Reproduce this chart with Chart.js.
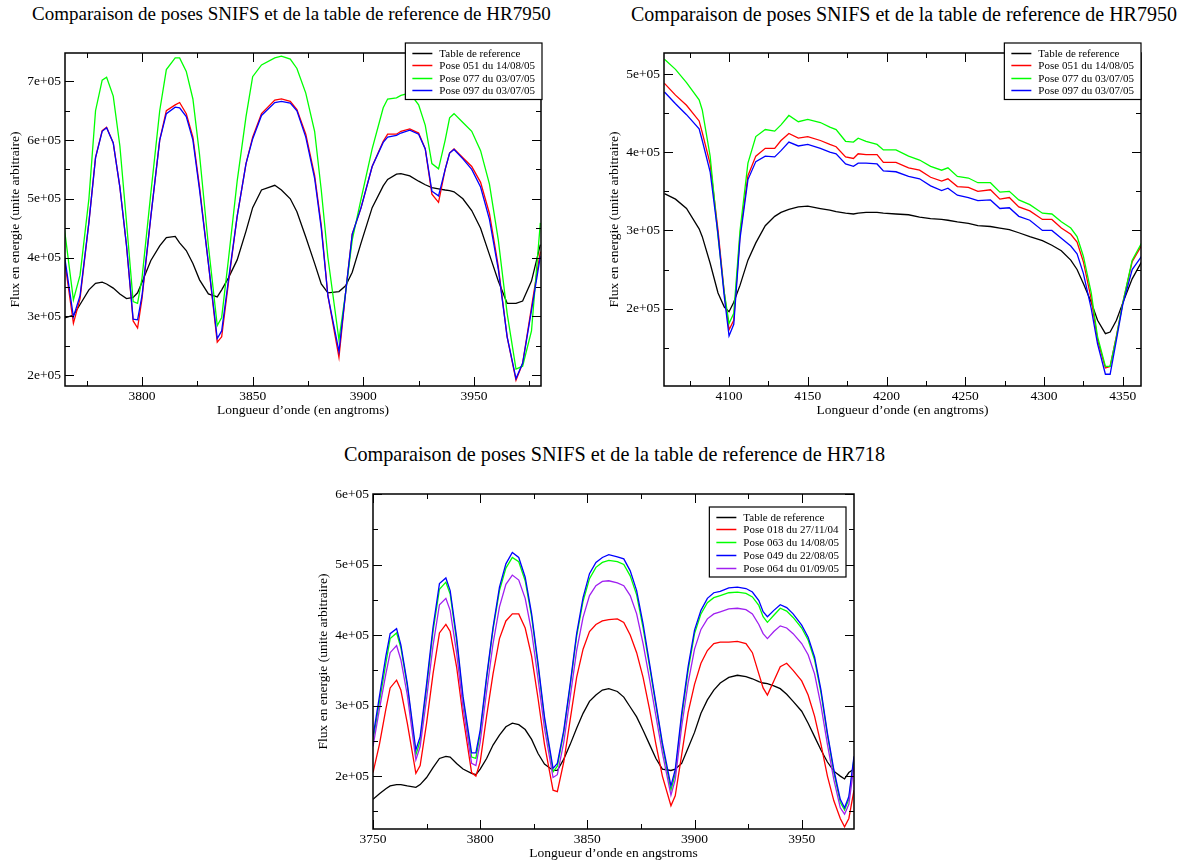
<!DOCTYPE html>
<html>
<head>
<meta charset="utf-8">
<script src="https://cdn.jsdelivr.net/npm/chart.js@4.4.1/dist/chart.umd.min.js"></script>
<style>
  body { margin: 0; background: #fff; width: 1184px; height: 863px; position: relative; overflow: hidden;
         font-family: 'Liberation Serif', 'Times New Roman', serif; color: #000; }
  .titre { position: absolute; font-size: 19px; line-height: 22px; white-space: nowrap; }
  canvas { position: absolute; }
</style>
</head>
<body>
<div class="titre" style="left:32px;top:3px">Comparaison de poses SNIFS et de la table de reference de HR7950</div>
<div class="titre" style="left:631px;top:3px;font-size:20px">Comparaison de poses SNIFS et de la table de reference de HR7950</div>
<div class="titre" style="left:344px;top:443px;font-size:20.2px">Comparaison de poses SNIFS et de la table de reference de HR718</div>

<canvas id="graphe1" width="580" height="400" style="left:0;top:30px"></canvas>
<canvas id="graphe2" width="594" height="400" style="left:590px;top:30px"></canvas>
<canvas id="graphe3" width="580" height="393" style="left:300px;top:470px"></canvas>

<script>
// flux en unites de 1e+05, longueurs d'onde en angstroms

// --- HR7950, premiere fenetre ---
const wl1 = [3765, 3769, 3772, 3776, 3779, 3782, 3784, 3787, 3790, 3793, 3796, 3798, 3800, 3804, 3808, 3811,
  3815, 3817, 3820, 3823, 3826, 3830, 3834, 3836, 3839, 3843, 3847, 3850, 3854, 3860, 3863, 3867, 3870, 3874,
  3878, 3881, 3884, 3889, 3892, 3895, 3899, 3904, 3909, 3911, 3915, 3917, 3921, 3925, 3928, 3931, 3934, 3937,
  3939, 3941, 3945, 3949, 3953, 3957, 3961, 3965, 3969, 3972, 3976, 3980];
const ref1 = [2.97, 3.02, 3.20, 3.45, 3.56, 3.58, 3.55, 3.48, 3.38, 3.30, 3.32, 3.40, 3.58, 3.95, 4.20, 4.34,
  4.36, 4.25, 4.12, 3.90, 3.62, 3.38, 3.33, 3.45, 3.65, 3.96, 4.45, 4.85, 5.15, 5.23, 5.15, 5.00, 4.78, 4.35,
  3.90, 3.55, 3.40, 3.42, 3.52, 3.75, 4.25, 4.85, 5.22, 5.33, 5.42, 5.43, 5.39, 5.30, 5.24, 5.19, 5.17, 5.15,
  5.14, 5.12, 5.00, 4.80, 4.50, 4.05, 3.60, 3.22, 3.22, 3.26, 3.60, 4.22];
const pose051_1 = [3.96, 2.88, 3.30, 4.60, 5.70, 6.16, 6.22, 5.95, 5.20, 4.20, 2.92, 2.80, 3.30, 4.70, 6.00, 6.50,
  6.60, 6.64, 6.45, 6.05, 5.20, 3.90, 2.56, 2.65, 3.55, 4.70, 5.60, 6.05, 6.45, 6.68, 6.70, 6.66, 6.52, 6.10,
  5.40, 4.55, 3.35, 2.30, 3.40, 4.40, 4.85, 5.55, 5.98, 6.10, 6.10, 6.15, 6.19, 6.12, 5.85, 5.08, 4.94, 5.50,
  5.78, 5.85, 5.70, 5.55, 5.28, 4.75, 3.85, 2.65, 1.91, 2.20, 3.15, 4.10];
const pose077_1 = [4.47, 3.28, 3.70, 5.00, 6.50, 7.02, 7.07, 6.75, 5.90, 4.60, 3.25, 3.22, 3.65, 5.10, 6.50, 7.20,
  7.40, 7.40, 7.17, 6.70, 5.75, 4.20, 2.84, 2.98, 3.95, 5.30, 6.40, 7.08, 7.28, 7.40, 7.43, 7.38, 7.22, 6.80,
  6.15, 5.15, 4.00, 2.60, 3.40, 4.30, 5.00, 5.85, 6.55, 6.70, 6.72, 6.76, 6.80, 6.60, 6.25, 5.60, 5.51, 6.00,
  6.38, 6.45, 6.30, 6.15, 5.82, 5.25, 4.30, 3.05, 2.10, 2.15, 2.75, 4.59];
const pose097_1 = [4.02, 2.99, 3.35, 4.60, 5.70, 6.15, 6.21, 5.95, 5.20, 4.20, 2.95, 2.94, 3.35, 4.70, 6.00, 6.45,
  6.56, 6.55, 6.40, 6.00, 5.15, 3.90, 2.62, 2.75, 3.60, 4.70, 5.60, 6.02, 6.42, 6.64, 6.66, 6.63, 6.50, 6.05,
  5.35, 4.50, 3.35, 2.40, 3.40, 4.40, 4.85, 5.55, 5.96, 6.05, 6.08, 6.12, 6.17, 6.10, 5.85, 5.13, 5.05, 5.50,
  5.78, 5.84, 5.68, 5.50, 5.20, 4.65, 3.80, 2.65, 1.94, 2.20, 3.10, 4.02];
const xTicks1 = [3800, 3850, 3900, 3950];
const yTicks1 = [2, 3, 4, 5, 6, 7];

// --- HR7950, seconde fenetre ---
const wl2 = [4059, 4066, 4073, 4081, 4083, 4088, 4093, 4097, 4100, 4103, 4107, 4112, 4117, 4123, 4129, 4133,
  4138, 4144, 4150, 4158, 4164, 4168, 4174, 4179, 4182, 4187, 4194, 4198, 4206, 4214, 4221, 4228, 4235, 4239,
  4245, 4252, 4258, 4266, 4272, 4278, 4284, 4291, 4299, 4305, 4311, 4317, 4321, 4325, 4330, 4334, 4339, 4342,
  4346, 4350, 4356, 4362];
const ref2 = [3.47, 3.40, 3.28, 3.02, 2.92, 2.58, 2.20, 2.02, 1.96, 2.08, 2.30, 2.62, 2.84, 3.06, 3.18, 3.23,
  3.27, 3.30, 3.31, 3.28, 3.26, 3.24, 3.22, 3.21, 3.22, 3.23, 3.23, 3.22, 3.21, 3.20, 3.17, 3.15, 3.14, 3.13,
  3.11, 3.09, 3.06, 3.05, 3.03, 3.01, 2.97, 2.92, 2.87, 2.81, 2.74, 2.62, 2.50, 2.32, 2.08, 1.85, 1.68, 1.70,
  1.85, 2.07, 2.38, 2.60];
const pose051_2 = [4.88, 4.73, 4.60, 4.40, 4.25, 3.85, 3.00, 2.20, 1.73, 1.85, 2.95, 3.70, 3.95, 4.05, 4.05, 4.15,
  4.24, 4.18, 4.20, 4.15, 4.10, 4.07, 3.94, 3.92, 3.98, 3.97, 3.97, 3.87, 3.87, 3.80, 3.77, 3.68, 3.63, 3.66,
  3.56, 3.55, 3.50, 3.52, 3.40, 3.42, 3.30, 3.25, 3.14, 3.14, 3.03, 2.95, 2.85, 2.60, 2.12, 1.60, 1.24, 1.26,
  1.65, 2.07, 2.60, 2.81];
const pose077_2 = [5.19, 5.06, 4.89, 4.67, 4.54, 3.95, 2.92, 2.20, 1.81, 1.94, 3.00, 3.86, 4.20, 4.29, 4.27, 4.35,
  4.47, 4.39, 4.42, 4.38, 4.32, 4.29, 4.14, 4.13, 4.18, 4.14, 4.10, 4.03, 4.03, 3.95, 3.90, 3.82, 3.77, 3.80,
  3.69, 3.67, 3.61, 3.61, 3.49, 3.50, 3.39, 3.33, 3.22, 3.21, 3.11, 3.03, 2.92, 2.67, 2.20, 1.64, 1.26, 1.26,
  1.64, 2.07, 2.62, 2.84];
const pose097_2 = [4.77, 4.62, 4.48, 4.30, 4.15, 3.75, 2.95, 2.15, 1.65, 1.80, 2.90, 3.65, 3.88, 3.95, 3.94, 4.02,
  4.13, 4.08, 4.10, 4.05, 4.00, 3.98, 3.85, 3.82, 3.86, 3.86, 3.85, 3.76, 3.75, 3.69, 3.66, 3.57, 3.51, 3.54,
  3.45, 3.42, 3.38, 3.39, 3.28, 3.29, 3.18, 3.13, 3.00, 3.00, 2.90, 2.80, 2.70, 2.45, 2.00, 1.55, 1.16, 1.16,
  1.60, 2.05, 2.50, 2.67];
const xTicks2 = [4100, 4150, 4200, 4250, 4300, 4350];
const yTicks2 = [2, 3, 4, 5];

// --- HR718 ---
const wl3 = [3750, 3753, 3756, 3758, 3761, 3763, 3766, 3770, 3772, 3775, 3778, 3781, 3784, 3786, 3789, 3792,
  3796, 3798, 3800, 3803, 3806, 3809, 3812, 3815, 3818, 3821, 3824, 3827, 3830, 3834, 3836, 3839, 3842, 3845,
  3848, 3851, 3854, 3857, 3860, 3864, 3867, 3870, 3873, 3876, 3879, 3882, 3885, 3889, 3891, 3894, 3897, 3900,
  3903, 3906, 3909, 3912, 3916, 3920, 3924, 3927, 3930, 3932, 3934, 3937, 3940, 3943, 3946, 3950, 3953, 3956,
  3959, 3962, 3965, 3968, 3970, 3972, 3974.4];
const ref3 = [1.67, 1.75, 1.82, 1.86, 1.88, 1.88, 1.86, 1.84, 1.88, 1.98, 2.12, 2.25, 2.28, 2.27, 2.18, 2.10,
  2.04, 2.02, 2.10, 2.25, 2.44, 2.58, 2.70, 2.75, 2.73, 2.66, 2.52, 2.32, 2.17, 2.08, 2.08, 2.24, 2.45, 2.68,
  2.89, 3.06, 3.15, 3.22, 3.24, 3.20, 3.12, 2.98, 2.84, 2.65, 2.45, 2.25, 2.10, 2.08, 2.10, 2.18, 2.40, 2.62,
  2.89, 3.08, 3.22, 3.32, 3.40, 3.43, 3.41, 3.38, 3.34, 3.32, 3.31, 3.28, 3.24, 3.16, 3.06, 2.92, 2.75, 2.56,
  2.37, 2.20, 2.07, 2.00, 1.96, 2.05, 2.10];
const pose018_3 = [2.05, 2.45, 2.95, 3.25, 3.36, 3.22, 2.75, 2.04, 2.15, 2.75, 3.45, 4.03, 4.15, 4.05, 3.55, 2.85,
  2.05, 2.00, 2.20, 2.85, 3.45, 3.95, 4.20, 4.30, 4.30, 4.10, 3.70, 3.10, 2.45, 1.80, 1.78, 2.20, 2.80, 3.40,
  3.80, 4.05, 4.15, 4.20, 4.22, 4.23, 4.18, 4.00, 3.75, 3.40, 2.95, 2.45, 2.00, 1.58, 1.72, 2.30, 2.90, 3.30,
  3.60, 3.78, 3.88, 3.90, 3.90, 3.91, 3.88, 3.75, 3.45, 3.25, 3.15, 3.35, 3.55, 3.60, 3.50, 3.35, 3.15, 2.85,
  2.45, 2.00, 1.65, 1.40, 1.28, 1.40, 1.80];
const pose063_3 = [2.50, 3.05, 3.60, 3.95, 4.03, 3.82, 3.28, 2.30, 2.50, 3.25, 4.05, 4.65, 4.75, 4.58, 3.92, 3.08,
  2.27, 2.25, 2.60, 3.38, 4.08, 4.63, 4.95, 5.10, 5.04, 4.77, 4.26, 3.56, 2.80, 2.06, 2.14, 2.62, 3.28, 3.98,
  4.48, 4.80, 4.96, 5.03, 5.06, 5.04, 5.00, 4.84, 4.57, 4.10, 3.56, 3.00, 2.43, 1.80, 2.03, 2.83, 3.50, 4.02,
  4.30, 4.46, 4.53, 4.56, 4.60, 4.61, 4.59, 4.54, 4.42, 4.26, 4.18, 4.28, 4.38, 4.34, 4.25, 4.10, 3.93, 3.65,
  3.18, 2.58, 2.05, 1.63, 1.52, 1.67, 2.25];
const pose049_3 = [2.56, 3.13, 3.70, 4.02, 4.09, 3.86, 3.31, 2.37, 2.56, 3.31, 4.11, 4.73, 4.81, 4.63, 3.97, 3.13,
  2.33, 2.33, 2.65, 3.41, 4.11, 4.68, 5.01, 5.17, 5.10, 4.82, 4.30, 3.60, 2.84, 2.11, 2.18, 2.65, 3.31, 4.02,
  4.53, 4.87, 5.03, 5.10, 5.14, 5.11, 5.08, 4.91, 4.63, 4.16, 3.60, 3.03, 2.47, 1.86, 2.09, 2.89, 3.55, 4.07,
  4.35, 4.52, 4.60, 4.62, 4.67, 4.68, 4.66, 4.61, 4.49, 4.33, 4.26, 4.35, 4.43, 4.39, 4.30, 4.14, 3.97, 3.69,
  3.22, 2.61, 2.09, 1.67, 1.55, 1.71, 2.28];
const pose064_3 = [2.42, 2.95, 3.45, 3.75, 3.85, 3.65, 3.15, 2.23, 2.42, 3.10, 3.85, 4.43, 4.52, 4.35, 3.75, 2.97,
  2.18, 2.15, 2.48, 3.20, 3.88, 4.40, 4.72, 4.85, 4.78, 4.52, 4.05, 3.38, 2.68, 1.98, 2.02, 2.48, 3.12, 3.78,
  4.25, 4.56, 4.70, 4.76, 4.77, 4.74, 4.70, 4.56, 4.30, 3.88, 3.38, 2.85, 2.33, 1.73, 1.95, 2.70, 3.32, 3.80,
  4.08, 4.23, 4.30, 4.33, 4.37, 4.38, 4.36, 4.30, 4.15, 4.02, 3.95, 4.05, 4.13, 4.10, 4.02, 3.88, 3.72, 3.45,
  3.00, 2.45, 1.95, 1.55, 1.46, 1.60, 2.15];
const xTicks3 = [3750, 3800, 3850, 3900, 3950];
const yTicks3 = [2, 3, 4, 5, 6];

const noms1 = ['Table de reference', 'Pose 051 du 14/08/05', 'Pose 077 du 03/07/05', 'Pose 097 du 03/07/05'];
const noms3 = ['Table de reference', 'Pose 018 du 27/11/04', 'Pose 063 du 14/08/05', 'Pose 049 du 22/08/05', 'Pose 064 du 01/09/05'];
const couleurs = ['#000000', '#ff0000', '#00ff00', '#0000ff', '#a020f0'];

Chart.defaults.font.family = "'Liberation Serif', 'Times New Roman', serif";
Chart.defaults.font.size = 13.5;
Chart.defaults.color = '#000';

// cadre a la xmgrace : bordure, graduations vers l'interieur, legende dans le trace
const cadre = {
  id: 'cadre',
  afterDraw(chart, args, opts) {
    const ctx = chart.ctx;
    const a = chart.chartArea;
    ctx.save();
    ctx.strokeStyle = '#000';
    ctx.lineWidth = 1.5;
    ctx.strokeRect(a.left, a.top, a.right - a.left, a.bottom - a.top);

    ctx.lineWidth = 1;
    const graduer = (scale, horiz) => {
      const vals = scale.ticks.map(t => t.value);
      const pas = vals[1] - vals[0];
      for (let k = -2; k <= (vals.length + 1) * 2; k++) {
        const v = vals[0] + k * pas / 2;
        if (v < scale.min - 1e-9 || v > scale.max + 1e-9) continue;
        const l = k % 2 === 0 ? 9 : 5;
        const p = Math.round(scale.getPixelForValue(v)) + 0.5;
        ctx.beginPath();
        if (horiz) {
          ctx.moveTo(p, a.bottom); ctx.lineTo(p, a.bottom - l);
          ctx.moveTo(p, a.top); ctx.lineTo(p, a.top + l);
        } else {
          ctx.moveTo(a.left, p); ctx.lineTo(a.left + l, p);
          ctx.moveTo(a.right, p); ctx.lineTo(a.right - l, p);
        }
        ctx.stroke();
      }
    };
    graduer(chart.scales.x, true);
    graduer(chart.scales.y, false);

    // legende
    const ds = chart.data.datasets;
    ctx.font = "11px 'Liberation Serif', serif";
    const largeur = 34 + Math.max(...ds.map(d => ctx.measureText(d.label).width)) + 7;
    const interligne = opts.interligne;
    const hauteur = 19 + (ds.length - 1) * interligne;
    const x0 = a.right + opts.dx - largeur;
    const y0 = a.top + opts.dy;
    ctx.fillStyle = '#fff';
    ctx.fillRect(x0, y0, largeur, hauteur);
    ctx.strokeStyle = '#000';
    ctx.lineWidth = 1.2;
    ctx.strokeRect(x0, y0, largeur, hauteur);
    ctx.textBaseline = 'middle';
    ds.forEach((d, i) => {
      const y = Math.round(y0 + 9.5 + i * interligne) + 0.5;
      ctx.strokeStyle = d.borderColor;
      ctx.lineWidth = 1.5;
      ctx.beginPath();
      ctx.moveTo(x0 + 7, y);
      ctx.lineTo(x0 + 27, y);
      ctx.stroke();
      ctx.fillStyle = '#000';
      ctx.fillText(d.label, x0 + 34, y + 0.5);
    });
    ctx.restore();
  }
};

function creerGraphe(id, wl, series, noms, xTicks, yTicks, r) {
  const datasets = series.map((s, i) => ({
    label: noms[i],
    data: wl.map((x, j) => ({ x: x, y: s[j] })),
    borderColor: couleurs[i],
    borderWidth: 1.3,
    pointRadius: 0,
    tension: 0,
    order: -i
  }));
  return new Chart(document.getElementById(id), {
    type: 'line',
    data: { datasets },
    plugins: [cadre],
    options: {
      responsive: false,
      animation: false,
      events: [],
      layout: { padding: r.padding },
      plugins: {
        legend: { display: false },
        tooltip: { enabled: false },
        cadre: r.legende
      },
      scales: {
        x: {
          type: 'linear',
          min: r.xmin, max: r.xmax,
          afterBuildTicks: s => { s.ticks = xTicks.map(v => ({ value: v })); },
          afterFit: s => { s.height = r.hx; },
          grid: { display: false, drawTicks: false },
          border: { display: false },
          ticks: { padding: r.padX, maxRotation: 0, callback: v => String(v) },
          title: { display: true, text: r.titreX, padding: { top: 0, bottom: r.titreXBas } }
        },
        y: {
          type: 'linear',
          min: r.ymin, max: r.ymax,
          afterBuildTicks: s => { s.ticks = yTicks.map(v => ({ value: v })); },
          afterFit: s => { s.width = r.ly; },
          grid: { display: false, drawTicks: false },
          border: { display: false },
          ticks: { padding: 4, callback: v => v + 'e+05' },
          title: { display: true, text: 'Flux en energie (unite arbitraire)', padding: { top: r.titreYGauche, bottom: 0 } }
        }
      }
    }
  });
}

creerGraphe('graphe1', wl1, [ref1, pose051_1, pose077_1, pose097_1], noms1, xTicks1, yTicks1, {
  padding: { left: 0, right: 39, top: 23, bottom: 0 },
  xmin: 3765.2, xmax: 3980.3, ymin: 1.8125, ymax: 7.483,
  hx: 44, ly: 65, padX: 2, titreXBas: 11, titreYGauche: 7,
  titreX: 'Longueur d\u2019onde (en angtroms)',
  legende: { dx: 1, dy: -10, interligne: 12.5 }
});

creerGraphe('graphe2', wl2, [ref2, pose051_2, pose077_2, pose097_2], noms1, xTicks2, yTicks2, {
  padding: { left: 0, right: 43, top: 23, bottom: 0 },
  xmin: 4058.7, xmax: 4361.6, ymin: 1.01, ymax: 5.269,
  hx: 44, ly: 74, padX: 2, titreXBas: 11, titreYGauche: 16,
  titreX: 'Longueur d\u2019onde (en angtroms)',
  legende: { dx: 0, dy: -10, interligne: 12.5 }
});

creerGraphe('graphe3', wl3, [ref3, pose018_3, pose063_3, pose049_3, pose064_3], noms3, xTicks3, yTicks3, {
  padding: { left: 0, right: 26, top: 24, bottom: 0 },
  xmin: 3750, xmax: 3974.4, ymin: 1.25, ymax: 6.0,
  hx: 34, ly: 73, padX: 2.5, titreXBas: 1, titreYGauche: 15,
  titreX: 'Longueur d\u2019onde en angstroms',
  legende: { dx: -8, dy: 13, interligne: 12.75 }
});
</script>
</body>
</html>
